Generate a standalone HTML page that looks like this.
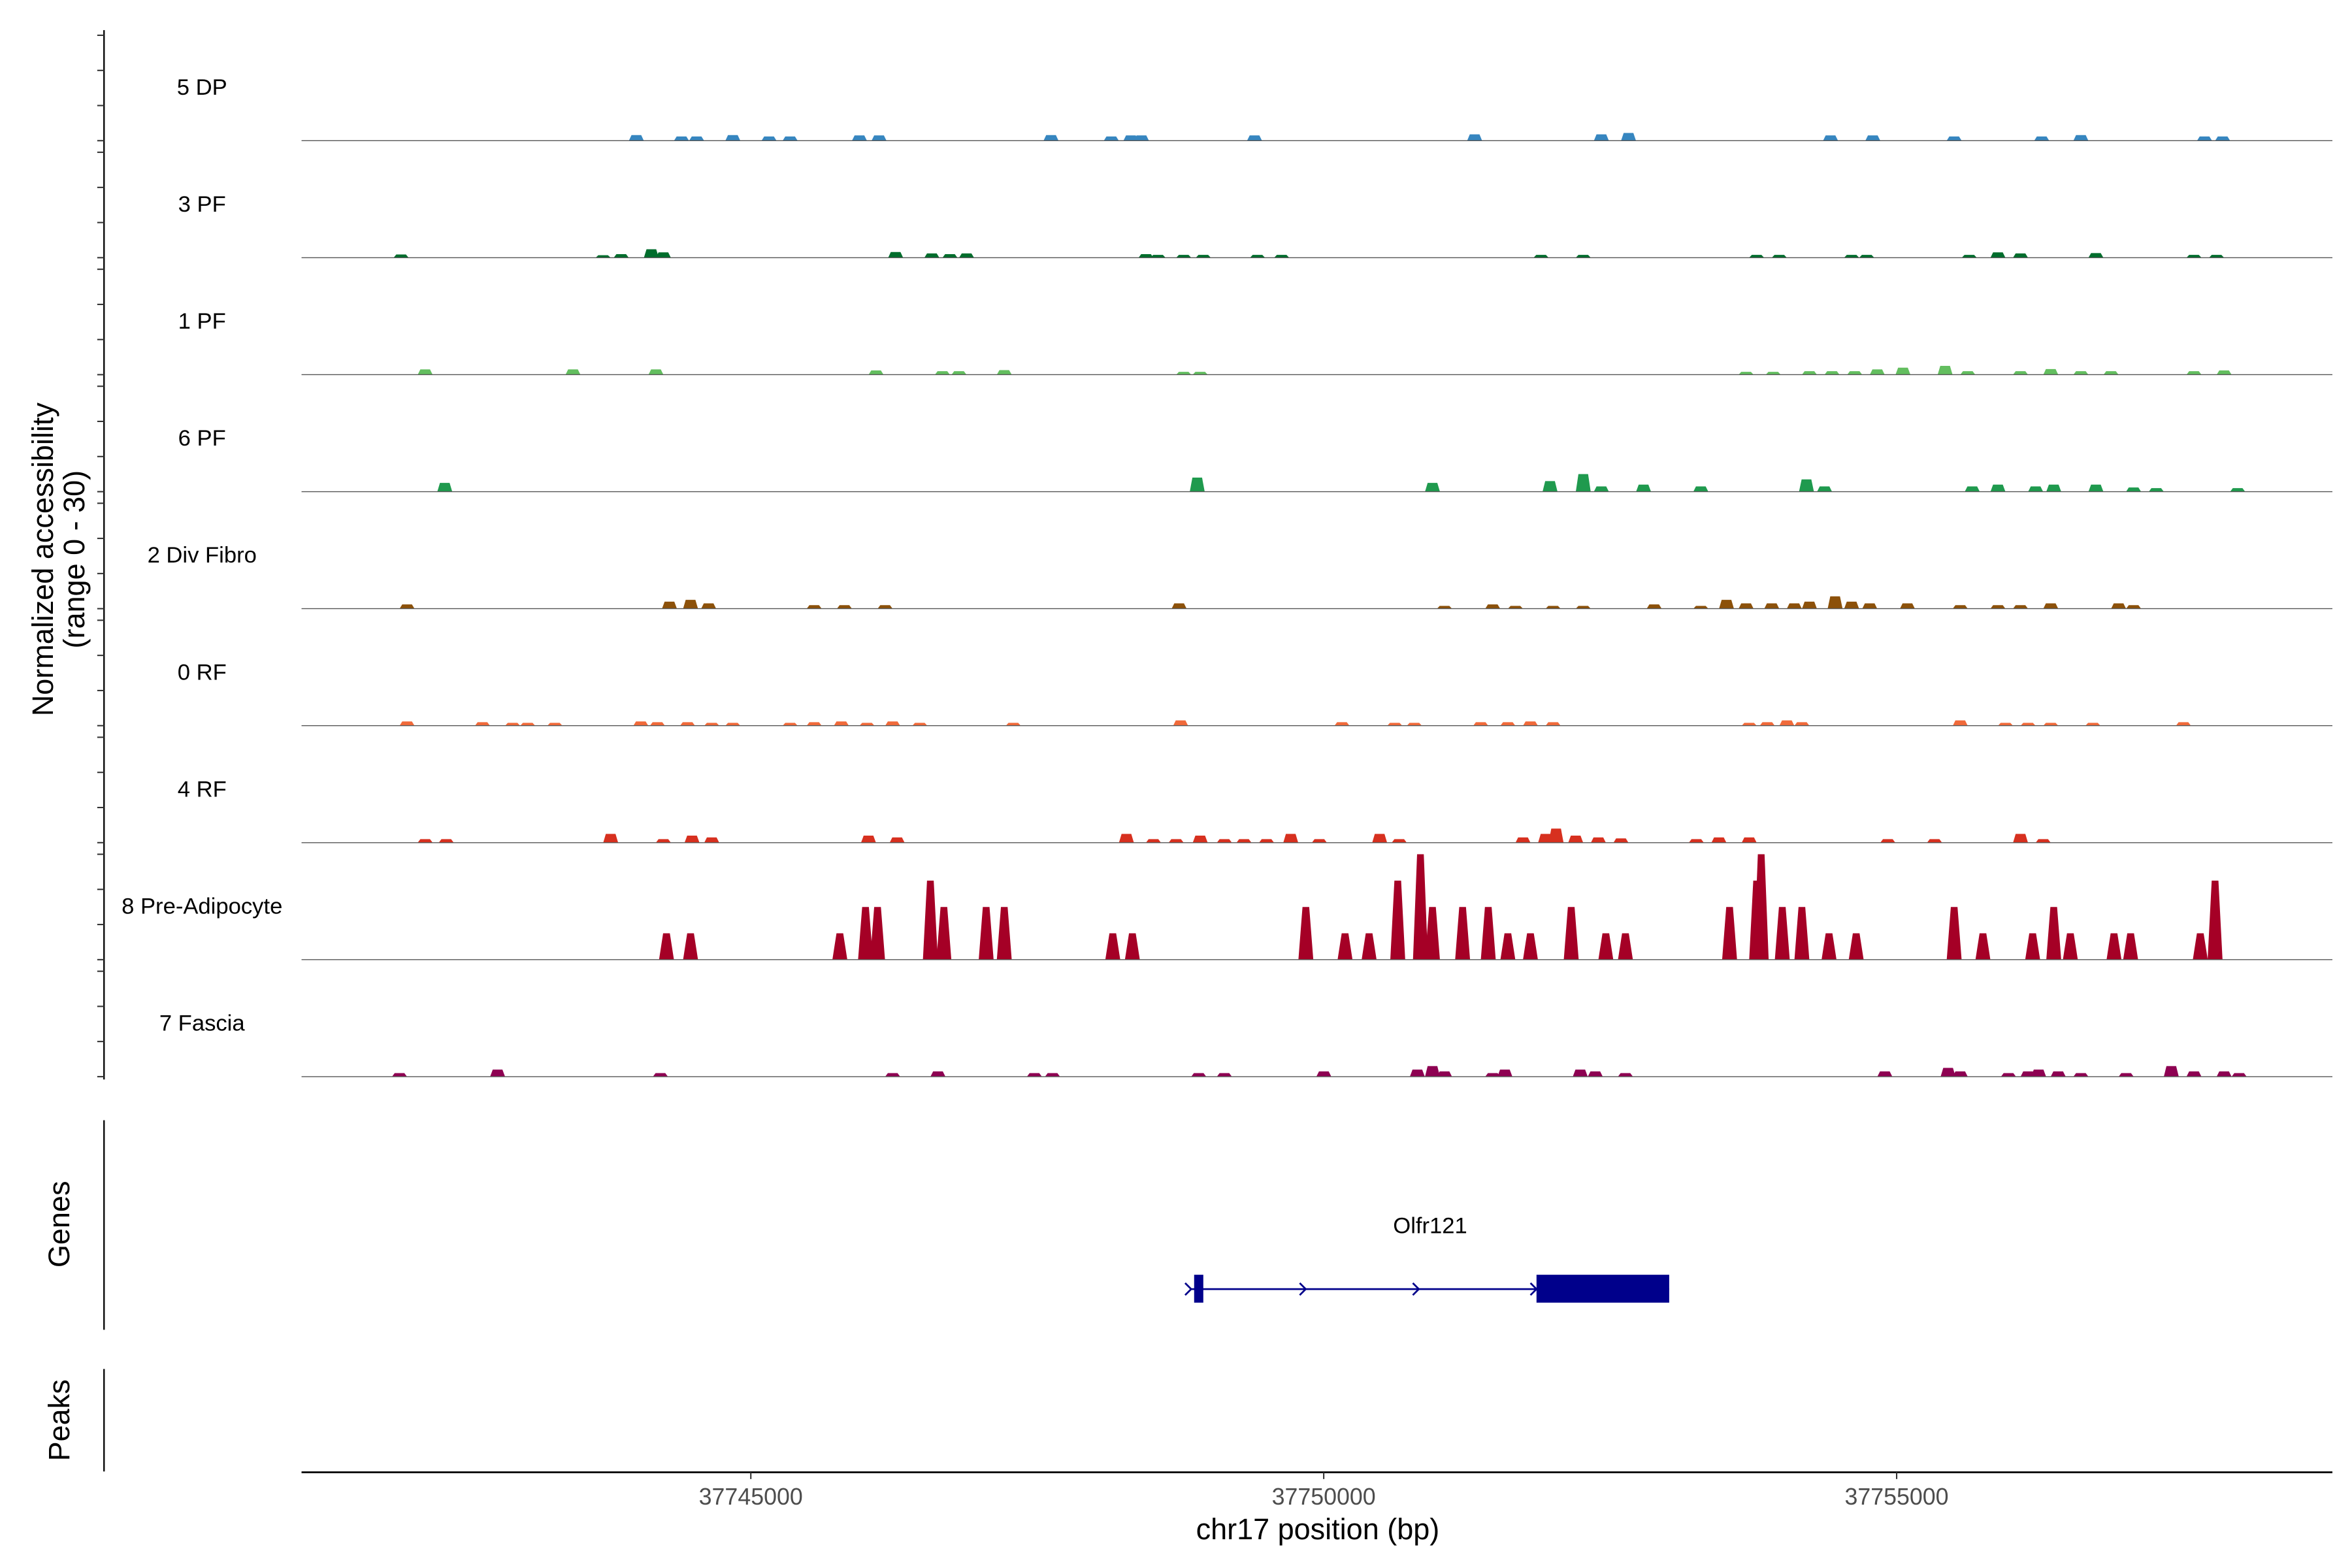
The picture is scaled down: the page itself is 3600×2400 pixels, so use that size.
<!DOCTYPE html>
<html><head><meta charset="utf-8"><style>
html,body{margin:0;padding:0;background:#fff;}
svg{display:block;}
text{font-family:"Liberation Sans",Arial,sans-serif;}
</style></head><body>
<svg id="chart" width="3600" height="2400" viewBox="0 0 1560 1040" xmlns="http://www.w3.org/2000/svg">
<rect x="0" y="0" width="1560" height="1040" fill="#fff"/>
<g id="tracks"></g>
<g id="axes"></g>
</svg>
<script>
// ---- data (positions in bp offset from region start, heights in normalized accessibility 0-30) ----
const regionStart = 37741079;
const regionLength = 17724;
const xTickValues = [37745000, 37750000, 37755000];
const xTickLabels = ["37745000", "37750000", "37755000"];
const trackNames = ["5 DP","3 PF","1 PF","6 PF","2 Div Fibro","0 RF","4 RF","8 Pre-Adipocyte","7 Fascia"];
const trackColors = ["#3686c0","#006d2c","#63be5f","#1f9a4e","#8c510a","#f06a3a","#d7301f","#a50026","#8e0152"];

const dpPos = [2922,3316,3448,3764,4080,4264,4869,5040,6541,7067,7238,7330,8317,10238,11344,11581,13344,13713,14423,15187,15529,16608,16766];
const dpVal = [1.6,1.2,1.2,1.6,1.2,1.2,1.5,1.5,1.6,1.2,1.5,1.5,1.5,1.8,1.8,2.2,1.5,1.5,1.2,1.2,1.6,1.2,1.2];

const pf3Pos = [869,2632,2790,3053,3158,5185,5501,5659,5804,7370,7475,7699,7870,8343,8554,10818,11186,12699,12897,13528,13660,14555,14805,15002,15660,16516,16713];
const pf3Val = [0.9,0.7,1,2.4,1.5,1.6,1.2,1,1.2,1,0.8,0.8,0.8,0.8,0.8,0.8,0.8,0.8,0.8,0.8,0.8,0.8,1.5,1.2,1.3,0.8,0.8];

const pf1Pos = [1079,2369,3093,5014,5593,5738,6133,7699,7843,12607,12844,13160,13357,13555,13752,13976,14344,14542,15002,15266,15529,15792,16516,16779];
const pf1Val = [1.5,1.5,1.5,1.2,1,1,1.3,0.8,0.8,0.8,0.8,1,1,1,1.5,2,2.5,1,1,1.6,1,1,1,1.2];

const pf6Pos = [1250,7817,9870,10896,11186,11344,11712,12212,13134,13292,14581,14805,15134,15292,15660,15989,16187,16897];
const pf6Val = [2.5,4,2.5,3,5,1.5,2,1.5,3.5,1.5,1.5,2,1.5,2,2,1.2,1,1];

const divPos = [921,3211,3395,3553,4474,4738,5093,7659,9975,10396,10594,10923,11186,11805,12212,12436,12607,12831,13028,13160,13384,13528,13686,14015,14476,14805,15002,15266,15858,15989];
const divVal = [1.2,2,2.5,1.5,1,1,1,1.5,0.8,1.2,0.8,0.8,0.8,1.2,0.8,2.5,1.5,1.5,1.5,2,3.5,2,1.5,1.5,1,1,1,1.5,1.5,1];

const rf0Pos = [921,1579,1842,1974,2211,2961,3106,3369,3580,3764,4264,4474,4711,4935,5159,5396,6212,7672,9080,9541,9712,10291,10528,10725,10923,12634,12792,12963,13094,14476,14871,15068,15266,15634,16424];
const rf0Val = [1.2,1,0.8,0.8,0.8,1.2,1,1,0.8,0.8,0.8,1,1.2,0.8,1.2,0.8,0.8,1.5,1,0.8,0.8,1,1,1.2,1,0.8,1,1.5,1,1.5,0.8,0.8,0.8,0.8,1];

const rf4Pos = [1079,1263,2698,3158,3408,3580,4948,5198,7199,7435,7633,7843,8054,8225,8422,8633,8883,9409,9580,10660,10857,10949,11120,11318,11515,12173,12370,12634,13844,14252,15002,15200];
const rf4Val = [1,1,2.5,1,2,1.5,2,1.5,2.5,1,1,2,1,1,1,2.5,1,2.5,1,1.5,2.5,4,2,1.5,1.2,1,1.5,1.5,1,1,2.5,1];

const preadPos = [3185,3395,4698,4922,5027,5488,5606,5975,6133,7080,7251,8765,9107,9317,9567,9765,9870,10133,10357,10528,10725,11081,11383,11554,12463,12699,12739,12923,13094,13331,13568,14423,14674,15108,15292,15437,15818,15963,16571,16700];
const preadVal = [7.5,7.5,7.5,15,15,22.5,15,15,15,7.5,7.5,15,7.5,7.5,22.5,30,15,15,15,7.5,7.5,15,7.5,7.5,15,22.5,30,15,15,7.5,7.5,15,7.5,7.5,15,7.5,7.5,7.5,7.5,22.5];

const fasciaPos = [855,1711,3132,5159,5554,6396,6554,7830,8054,8922,9738,9870,9975,10396,10502,11160,11291,11554,13818,14370,14476,14897,15068,15160,15331,15529,15924,16318,16516,16779,16910];
const fasciaVal = [1,2,1,1,1.5,1,1,1,1,1.5,2,3,1.5,1,2,2,1.5,1,1.5,2.5,1.5,1,1.5,2,1.5,1,1,3,1.5,1.5,1];

const trackPos = [dpPos,pf3Pos,pf1Pos,pf6Pos,divPos,rf0Pos,rf4Pos,preadPos,fasciaPos];
const trackVal = [dpVal,pf3Val,pf1Val,pf6Val,divVal,rf0Val,rf4Val,preadVal,fasciaVal];

const geneName = "Olfr121";
const geneStart = 7764, geneEnd = 11936;
const exonStarts = [7790, 10778];
const exonEnds = [7870, 11936];
const arrowPos = [7764, 8764, 9751, 10778];

// ---- layout ----
const NS = "http://www.w3.org/2000/svg";
const plotL = 200, plotR = 1547;
const firstBase = 93.3, trackStep = 77.6;
const yPerUnit = 2.33;
function xScale(off){ return plotL + off / regionLength * (plotR - plotL); }
function xScaleAbs(bp){ return xScale(bp - regionStart); }
function baseY(i){ return firstBase + i * trackStep; }
function mk(tag, attrs, parent){ const e=document.createElementNS(NS,tag); for(const k in attrs) e.setAttribute(k,attrs[k]); parent.appendChild(e); return e; }

const tracksG = document.getElementById('tracks');
const axesG = document.getElementById('axes');

trackNames.forEach((name, i) => {
  const g = mk('g', {}, tracksG);
  
  
  const by = baseY(i);
  const lbl = mk('text', {x:134, y:by-30.5, 'text-anchor':'middle', 'font-size':15, fill:'#000'}, g);
  lbl.textContent = name;
  
  
  const isPre = (i === 7);
  trackPos[i].forEach((p, j) => {
    const v = trackVal[i][j];
    const w = isPre ? 130 : 130;
    const cx = xScale(p);
    const halfB = (w/2) / regionLength * (plotR-plotL);
    const halfT = halfB * (isPre ? 0.45 : 0.65);
    const h = v * yPerUnit;
    const pts = [[cx-halfB,by],[cx-halfT,by-h],[cx+halfT,by-h],[cx+halfB,by]].map(q=>q[0].toFixed(2)+','+q[1].toFixed(2)).join(' ');
    const poly = mk('polygon', {points:pts, fill:trackColors[i]}, g);
    
    
  });
  const bl = mk('line', {x1:plotL, x2:plotR, y1:by, y2:by, stroke:'#555', 'stroke-width':0.6}, g);
  
  
});

// left y-axis
const ya = mk('line', {x1:69, x2:69, y1:20, y2:716, stroke:'#000', 'stroke-width':1}, axesG);


for (let i=0;i<trackNames.length;i++){
  for (let k=0;k<4;k++){
    const ty = baseY(i) - k*10*yPerUnit;
    const t = mk('line', {x1:64.5, x2:69, y1:ty, y2:ty, stroke:'#333', 'stroke-width':0.9}, axesG);
    
    
  }
}
const yt = mk('text', {transform:'translate(35,371) rotate(-90)', 'text-anchor':'middle', 'font-size':19.5, fill:'#000'}, axesG);


const ts1 = mk('tspan', {x:0, dy:0}, yt); ts1.textContent = 'Normalized accessibility';
const ts2 = mk('tspan', {x:0, dy:21}, yt); ts2.textContent = '(range 0 - 30)';

// genes panel
const ga = mk('line', {x1:69, x2:69, y1:743, y2:882, stroke:'#000', 'stroke-width':1}, axesG);


const gt = mk('text', {transform:'translate(46,812) rotate(-90)', 'text-anchor':'middle', 'font-size':19.5, fill:'#000'}, axesG);
gt.textContent = 'Genes';


const geneG = mk('g', {}, axesG);


mk('line', {x1:xScale(geneStart), x2:xScale(geneEnd), y1:855, y2:855, stroke:'#00008b', 'stroke-width':1.2}, geneG);
exonStarts.forEach((s, j) => {
  const r = mk('rect', {x:xScale(s), y:845.5, width:xScale(exonEnds[j])-xScale(s), height:18.5, fill:'#00008b'}, geneG);
  
  
});
arrowPos.forEach(a => {
  const ax = xScale(a);
  const ar = mk('polyline', {points:`${ax-4},851 ${ax},855 ${ax-4},859`, fill:'none', stroke:'#00008b', 'stroke-width':1.2}, geneG);
  
  
});
const gl = mk('text', {x:(xScale(geneStart)+xScale(geneEnd))/2, y:818, 'text-anchor':'middle', 'font-size':15, fill:'#000'}, geneG);
gl.textContent = geneName;



// peaks panel
const pa = mk('line', {x1:69, x2:69, y1:908, y2:976, stroke:'#000', 'stroke-width':1}, axesG);


const pt = mk('text', {transform:'translate(46,942) rotate(-90)', 'text-anchor':'middle', 'font-size':19.5, fill:'#000'}, axesG);
pt.textContent = 'Peaks';



// x-axis
const xa = mk('line', {x1:plotL, x2:plotR, y1:976.5, y2:976.5, stroke:'#000', 'stroke-width':1.2}, axesG);


xTickValues.forEach((v, j) => {
  const tx = xScaleAbs(v);
  const tk = mk('line', {x1:tx, x2:tx, y1:976.5, y2:981, stroke:'#333', 'stroke-width':0.9}, axesG);
  
  
  const tl = mk('text', {x:tx, y:998, 'text-anchor':'middle', 'font-size':15.5, fill:'#4d4d4d'}, axesG);
  tl.textContent = xTickLabels[j];
  
  
});
const xt = mk('text', {x:874, y:1021, 'text-anchor':'middle', 'font-size':19.5, fill:'#000'}, axesG);
xt.textContent = 'chr17 position (bp)';


</script>
</body></html>
